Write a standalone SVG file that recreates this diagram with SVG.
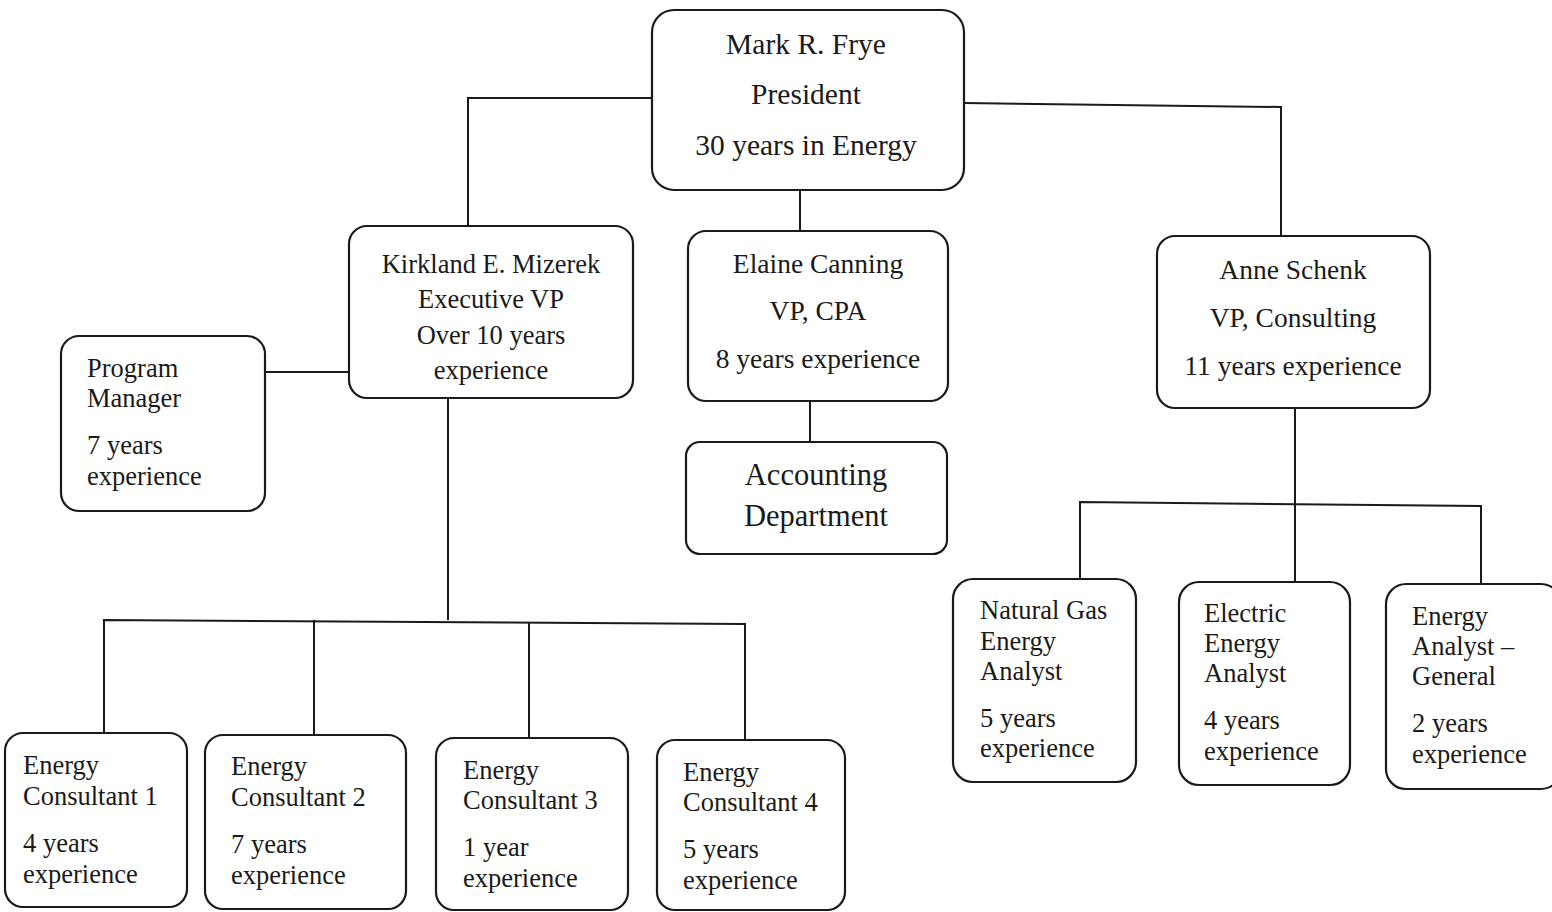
<svg xmlns="http://www.w3.org/2000/svg" width="1552" height="912" viewBox="0 0 1552 912" font-family="'Liberation Serif', 'Times New Roman', serif">
<style>
.box{fill:#fff;stroke:#1a1a1a;stroke-width:2.2}
.c{fill:none;stroke:#1a1a1a;stroke-width:2}
text{font-family:"Liberation Serif","Times New Roman",serif;fill:#1a1a1a}
.m{text-anchor:middle}
.s{font-size:26.5px}
</style>
<rect width="1552" height="912" fill="#fff"/>
<g id="connectors">
<polyline class="c" points="652,98 468,98 468,226"/>
<polyline class="c" points="964,103 1281,107 1281,236"/>
<line class="c" x1="800" y1="190" x2="800" y2="231"/>
<line class="c" x1="265" y1="372" x2="349" y2="372"/>
<line class="c" x1="448" y1="398" x2="448" y2="620"/>
<polyline class="c" points="104,733 104,620 745,624 745,740"/>
<line class="c" x1="314" y1="620" x2="314" y2="735"/>
<line class="c" x1="529" y1="622" x2="529" y2="738"/>
<line class="c" x1="810" y1="401" x2="810" y2="442"/>
<line class="c" x1="1295" y1="408" x2="1295" y2="582"/>
<polyline class="c" points="1080,579 1080,502 1481,506 1481,584"/>
</g>
<g id="president">
<rect class="box" x="652" y="10" width="312" height="180" rx="22"/>
<text class="m" x="806" y="54" font-size="29.5">Mark R. Frye</text>
<text class="m" x="806" y="104" font-size="29.5">President</text>
<text class="m" x="806" y="155" font-size="29.5">30 years in Energy</text>
</g>
<g id="kirkland">
<rect class="box" x="349" y="226" width="284" height="172" rx="18"/>
<text class="m s" x="491" y="273">Kirkland E. Mizerek</text>
<text class="m s" x="491" y="308">Executive VP</text>
<text class="m s" x="491" y="344">Over 10 years</text>
<text class="m s" x="491" y="379">experience</text>
</g>
<g id="elaine">
<rect class="box" x="688" y="231" width="260" height="170" rx="18"/>
<text class="m" x="818" y="273" font-size="27.5">Elaine Canning</text>
<text class="m" x="818" y="320" font-size="27.5">VP, CPA</text>
<text class="m" x="818" y="368" font-size="27.5">8 years experience</text>
</g>
<g id="anne">
<rect class="box" x="1157" y="236" width="273" height="172" rx="18"/>
<text class="m" x="1293" y="279" font-size="27.5">Anne Schenk</text>
<text class="m" x="1293" y="327" font-size="27.5">VP, Consulting</text>
<text class="m" x="1293" y="375" font-size="27.5">11 years experience</text>
</g>
<g id="program-manager">
<rect class="box" x="61" y="336" width="204" height="175" rx="18"/>
<text class="s" x="87" y="377">Program</text>
<text class="s" x="87" y="407">Manager</text>
<text class="s" x="87" y="454">7 years</text>
<text class="s" x="87" y="485">experience</text>
</g>
<g id="accounting">
<rect class="box" x="686" y="442" width="261" height="112" rx="14"/>
<text class="m" x="816" y="485" font-size="30.5">Accounting</text>
<text class="m" x="816" y="526" font-size="30.5">Department</text>
</g>
<g id="consultant1">
<rect class="box" x="5" y="733" width="182" height="174" rx="18"/>
<text class="s" x="23" y="774">Energy</text>
<text class="s" x="23" y="805">Consultant 1</text>
<text class="s" x="23" y="852">4 years</text>
<text class="s" x="23" y="883">experience</text>
</g>
<g id="consultant2">
<rect class="box" x="205" y="735" width="201" height="174" rx="18"/>
<text class="s" x="231" y="775">Energy</text>
<text class="s" x="231" y="806">Consultant 2</text>
<text class="s" x="231" y="853">7 years</text>
<text class="s" x="231" y="884">experience</text>
</g>
<g id="consultant3">
<rect class="box" x="436" y="738" width="192" height="172" rx="18"/>
<text class="s" x="463" y="779">Energy</text>
<text class="s" x="463" y="809">Consultant 3</text>
<text class="s" x="463" y="856">1 year</text>
<text class="s" x="463" y="887">experience</text>
</g>
<g id="consultant4">
<rect class="box" x="657" y="740" width="188" height="170" rx="18"/>
<text class="s" x="683" y="781">Energy</text>
<text class="s" x="683" y="811">Consultant 4</text>
<text class="s" x="683" y="858">5 years</text>
<text class="s" x="683" y="889">experience</text>
</g>
<g id="natural-gas-analyst">
<rect class="box" x="953" y="579" width="183" height="203" rx="20"/>
<text class="s" x="980" y="619">Natural Gas</text>
<text class="s" x="980" y="650">Energy</text>
<text class="s" x="980" y="680">Analyst</text>
<text class="s" x="980" y="727">5 years</text>
<text class="s" x="980" y="757">experience</text>
</g>
<g id="electric-analyst">
<rect class="box" x="1179" y="582" width="171" height="203" rx="20"/>
<text class="s" x="1204" y="622">Electric</text>
<text class="s" x="1204" y="652">Energy</text>
<text class="s" x="1204" y="682">Analyst</text>
<text class="s" x="1204" y="729">4 years</text>
<text class="s" x="1204" y="760">experience</text>
</g>
<g id="general-analyst">
<rect class="box" x="1386" y="584" width="175" height="205" rx="20"/>
<text class="s" x="1412" y="625">Energy</text>
<text class="s" x="1412" y="655">Analyst –</text>
<text class="s" x="1412" y="685">General</text>
<text class="s" x="1412" y="732">2 years</text>
<text class="s" x="1412" y="763">experience</text>
</g>
</svg>
